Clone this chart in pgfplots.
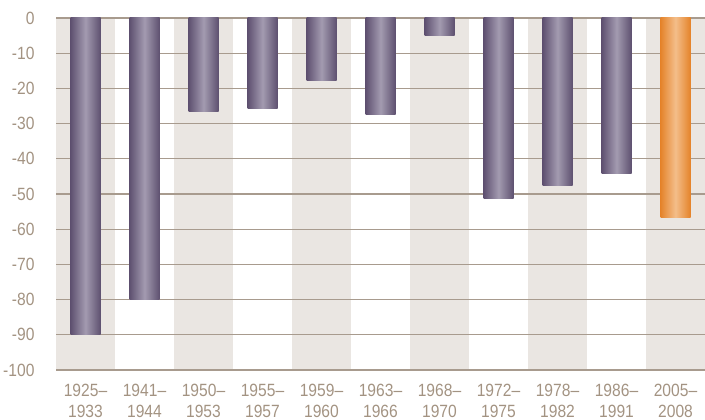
\documentclass[border=0pt]{standalone}
\usepackage{pgfplots}
\pgfplotsset{compat=1.18}
\usepackage{fontspec}
\setmainfont{Liberation Sans}[FakeStretch=0.88]
\definecolor{band}{HTML}{EAE6E2}
\definecolor{gridc}{HTML}{A89B8E}
\definecolor{txt}{HTML}{A39382}
\definecolor{barD}{HTML}{5E5070}
\definecolor{barL}{HTML}{A39BB0}
\definecolor{orD}{HTML}{E5832A}
\definecolor{orL}{HTML}{F3BE8A}
\pgfplotsset{
  pbar/.style={ybar, bar width=30bp, bar shift=0pt, draw=none, left color=barD, right color=barD, middle color=barL},
  obar/.style={ybar, bar width=30bp, bar shift=0pt, draw=none, left color=orD, right color=orD, middle color=orL},
}
\begin{document}
\begin{tikzpicture}
\begin{axis}[
  set layers,
  scale only axis, width=649bp, height=352bp,
  xmin=-0.5, xmax=10.5, ymin=-100, ymax=0,
  axis line style={draw=none},
  major tick length=0pt,
  ytick={-100,-90,-80,-70,-60,-50,-40,-30,-20,-10,0},
  yticklabels={-100,-90,-80,-70,-60,-50,-40,-30,-20,-10,0},
  xtick={0,1,2,3,4,5,6,7,8,9,10},
  xticklabels={{1925--\\1933},{1941--\\1944},{1950--\\1953},{1955--\\1957},{1959--\\1960},{1963--\\1966},{1968--\\1970},{1972--\\1975},{1978--\\1982},{1986--\\1991},{2005--\\2008}},
  ticklabel style={font=\fontsize{17.8}{20.5}\selectfont, text=txt},
  xticklabel style={align=center, yshift=-11bp},
  yticklabel style={xshift=-18bp},
  ymajorgrids, grid style={gridc, line width=1.3bp},
  clip=false,
]
\begin{pgfonlayer}{axis background}
\fill[band] (axis cs:-0.5,-100) rectangle (axis cs:0.5,0);
\fill[band] (axis cs:1.5,-100) rectangle (axis cs:2.5,0);
\fill[band] (axis cs:3.5,-100) rectangle (axis cs:4.5,0);
\fill[band] (axis cs:5.5,-100) rectangle (axis cs:6.5,0);
\fill[band] (axis cs:7.5,-100) rectangle (axis cs:8.5,0);
\fill[band] (axis cs:9.5,-100) rectangle (axis cs:10.5,0);
\end{pgfonlayer}
\addplot[pbar] coordinates {(0,-90)};
\addplot[pbar] coordinates {(1,-80)};
\addplot[pbar] coordinates {(2,-26.5)};
\addplot[pbar] coordinates {(3,-25.7)};
\addplot[pbar] coordinates {(4,-17.7)};
\addplot[pbar] coordinates {(5,-27.3)};
\addplot[pbar] coordinates {(6,-5)};
\addplot[pbar] coordinates {(7,-51.2)};
\addplot[pbar] coordinates {(8,-47.6)};
\addplot[pbar] coordinates {(9,-44.2)};
\addplot[obar] coordinates {(10,-56.6)};
\end{axis}
\pgfresetboundingbox
\useasboundingbox (-56bp,-50bp) rectangle (649bp,370bp);
\end{tikzpicture}
\end{document}
